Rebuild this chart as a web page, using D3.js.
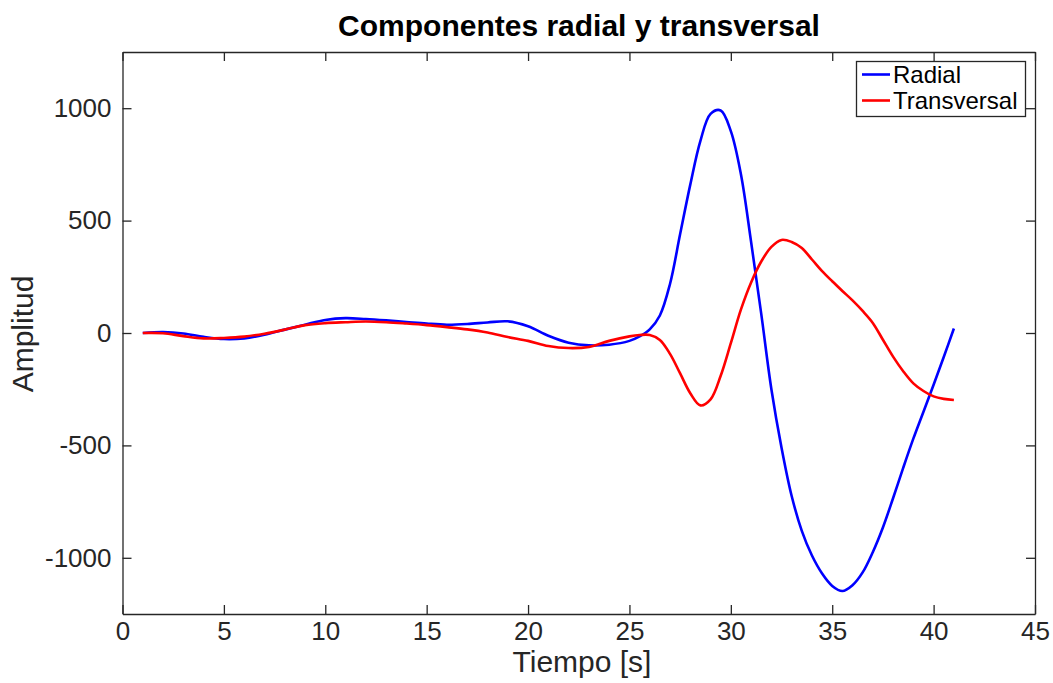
<!DOCTYPE html>
<html>
<head>
<meta charset="utf-8">
<script src="https://cdn.jsdelivr.net/npm/d3@7"></script>
<style>
  html, body { margin: 0; padding: 0; background: #fff; }
  svg { display: block; }
  text { font-family: "Liberation Sans", Helvetica, Arial, sans-serif; }
</style>
</head>
<body>
<svg id="chart" width="1053" height="683"></svg>
<script>
const time = [1,2,3,4,5,6,7,8,9,10,11,12,13,14,15,16,17,18,19,20,21,22,23,24,25,25.5,26,26.5,27,27.5,28,28.5,29,29.5,30,30.5,31,31.5,32,32.5,33,33.5,34,34.5,35,35.5,36,36.5,37,37.5,38,38.5,39,39.5,40,40.5,41];
const radial = [0,4,-2,-17,-27,-24,-8,15,37,58,66,62,56,49,42,37,40,47,52,30,-12,-43,-55,-52,-35,-15,16,78,218,440,660,855,975,990,898,705,405,85,-250,-510,-725,-880,-990,-1070,-1125,-1148,-1122,-1065,-975,-865,-735,-600,-470,-350,-230,-107,20];
const transversal = [0,-1,-14,-24,-22,-16,-3,15,35,44,48,51,48,42,35,26,16,2,-18,-35,-58,-67,-62,-35,-15,-9,-9,-31,-93,-180,-268,-322,-295,-190,-45,105,225,318,383,414,405,378,327,275,230,187,145,98,45,-30,-105,-170,-224,-258,-282,-293,-298];
const seriesNames = ["Radial", "Transversal"];
const seriesColors = ["#0000ff", "#ff0000"];
const xTicks = [0,5,10,15,20,25,30,35,40,45];
const yTicks = [-1000,-500,0,500,1000];
const titleText = "Componentes radial y transversal";
const xLabel = "Tiempo [s]";
const yLabel = "Amplitud";

(function () {
const svg = d3.select("#chart");
const L = 122.5, R = 1035, T = 52, B = 614;
const x = d3.scaleLinear().domain([0,45]).range([L,R]);
const y = d3.scaleLinear().domain([-1250,1250]).range([B,T]);
const axisColor = "#262626";
const tickLen = 9;
const fmt = d => String(d);

const line = d3.line().x(d => x(d[0])).y(d => y(d[1])).curve(d3.curveCatmullRom.alpha(0.5));
const allSeries = [radial, transversal];
allSeries.forEach((vals, i) => {
  svg.append("path")
    .datum(time.map((t, j) => [t, vals[j]]))
    .attr("fill", "none")
    .attr("stroke", seriesColors[i])
    .attr("stroke-width", 2.6)
    .attr("stroke-linejoin", "round")
    .attr("d", line);
});

const gBottom = svg.append("g").attr("transform", `translate(0,${B})`)
  .call(d3.axisBottom(x).tickValues(xTicks).tickFormat(fmt).tickSize(-tickLen).tickPadding(8).tickSizeOuter(0));
const gTop = svg.append("g").attr("transform", `translate(0,${T})`)
  .call(d3.axisTop(x).tickValues(xTicks).tickSize(-tickLen).tickFormat("").tickSizeOuter(0));
const gLeft = svg.append("g").attr("transform", `translate(${L},0)`)
  .call(d3.axisLeft(y).tickValues(yTicks).tickFormat(fmt).tickSize(-tickLen).tickPadding(11).tickSizeOuter(0));
const gRight = svg.append("g").attr("transform", `translate(${R},0)`)
  .call(d3.axisRight(y).tickValues(yTicks).tickSize(-tickLen).tickFormat("").tickSizeOuter(0));
[gBottom, gTop, gLeft, gRight].forEach(g => {
  g.selectAll("path.domain").attr("stroke", axisColor).attr("stroke-width", 1.3);
  g.selectAll(".tick line").attr("stroke", axisColor).attr("stroke-width", 1.3);
  g.selectAll(".tick text").attr("fill", axisColor).style("font-size", "26px").attr("font-family", null);
});

svg.append("text").attr("x", 579).attr("y", 36).attr("text-anchor", "middle")
  .style("font-size", "30px").style("font-weight", "bold").attr("fill", "#000").text(titleText);
svg.append("text").attr("x", 582).attr("y", 672).attr("text-anchor", "middle")
  .style("font-size", "30px").attr("fill", axisColor).text(xLabel);
svg.append("text").attr("transform", `translate(33,334) rotate(-90)`).attr("text-anchor", "middle")
  .style("font-size", "30px").attr("fill", axisColor).text(yLabel);

const lg = svg.append("g");
lg.append("rect").attr("x", 856.5).attr("y", 61.5).attr("width", 169).attr("height", 55)
  .attr("fill", "#fff").attr("stroke", axisColor).attr("stroke-width", 1.3);
seriesNames.forEach((name, i) => {
  const yy = 74.5 + i * 26;
  lg.append("line").attr("x1", 862).attr("x2", 890).attr("y1", yy).attr("y2", yy)
    .attr("stroke", seriesColors[i]).attr("stroke-width", 2.6);
  lg.append("text").attr("x", 893).attr("y", yy + 8.5).style("font-size", "24px")
    .attr("fill", "#000").text(name);
});
})();
</script>
</body>
</html>
